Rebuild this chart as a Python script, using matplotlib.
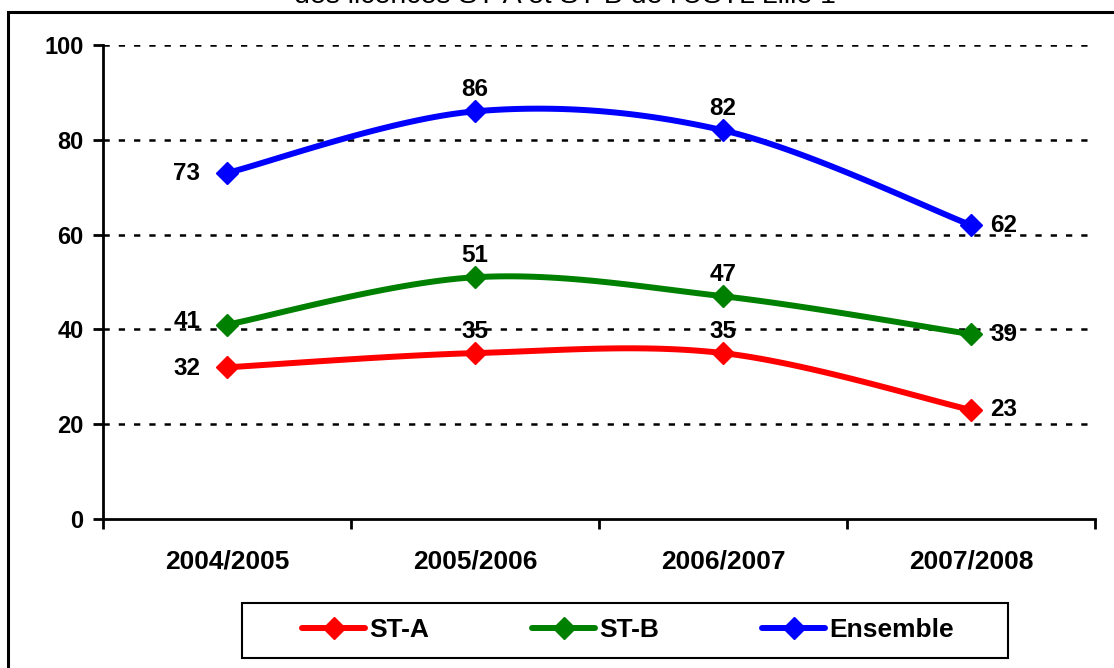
import numpy as np
import matplotlib
matplotlib.use("Agg")
import matplotlib.pyplot as plt
from matplotlib.patches import Rectangle

plt.rcParams['font.family'] = ['Liberation Sans', 'DejaVu Sans']
plt.rcParams['lines.scale_dashes'] = False

categories = ["2004/2005", "2005/2006", "2006/2007", "2007/2008"]
st_a = [32, 35, 35, 23]
st_b = [41, 51, 47, 39]
ensemble = [73, 86, 82, 62]
series_names = ["ST-A", "ST-B", "Ensemble"]
series_colors = ["#ff0000", "#008000", "#0000ff"]
title = "des licences ST-A et ST-B de l'USTL Lille 1"
yticks = [0, 20, 40, 60, 80, 100]


def smooth(x, y, n=40):
    # Catmull-Rom style smoothing (as in spreadsheet "smoothed line")
    x = np.asarray(x, float)
    y = np.asarray(y, float)
    px = np.concatenate([[x[0]], x, [x[-1]]])
    py = np.concatenate([[y[0]], y, [y[-1]]])
    xs, ys = [], []
    for i in range(1, len(px) - 2):
        p0x, p1x, p2x, p3x = px[i - 1], px[i], px[i + 1], px[i + 2]
        p0y, p1y, p2y, p3y = py[i - 1], py[i], py[i + 1], py[i + 2]
        c1x = p1x + (p2x - p0x) / 6
        c1y = p1y + (p2y - p0y) / 6
        c2x = p2x - (p3x - p1x) / 6
        c2y = p2y - (p3y - p1y) / 6
        t = np.linspace(0, 1, n)
        bx = (1 - t) ** 3 * p1x + 3 * (1 - t) ** 2 * t * c1x + 3 * (1 - t) * t ** 2 * c2x + t ** 3 * p2x
        by = (1 - t) ** 3 * p1y + 3 * (1 - t) ** 2 * t * c1y + 3 * (1 - t) * t ** 2 * c2y + t ** 3 * p2y
        xs.append(bx)
        ys.append(by)
    return np.concatenate(xs), np.concatenate(ys)


fig = plt.figure(figsize=(11.14, 6.68), dpi=100)
ax = fig.add_axes([103 / 1114, 1 - 519 / 668, (1095 - 103) / 1114, (519 - 45) / 668])

x = np.arange(len(categories))
data = [st_a, st_b, ensemble]
label_pos = {
    "ST-A": ["left", "above", "above", "right"],
    "ST-B": ["leftup", "above", "above", "right"],
    "Ensemble": ["left", "above", "above", "right"],
}
offs = {"left": (-40, -1), "leftup": (-40, 3), "above": (0, 22), "right": (33, 0)}

handles = []
for name, vals, col in zip(series_names, data, series_colors):
    sx, sy = smooth(x, vals)
    ax.plot(sx, sy, color=col, lw=4.3, solid_capstyle='round', zorder=3)
    ax.plot(x, vals, linestyle='none', marker='D', ms=11, color=col, zorder=4)
    h, = ax.plot([], [], color=col, lw=4.3, marker='D', ms=11, solid_capstyle='round')
    handles.append(h)
    for xi, v, pos in zip(x, vals, label_pos[name]):
        dx, dy = offs[pos]
        ax.annotate(str(v), (xi, v), xytext=(dx, dy), textcoords='offset pixels',
                    ha='center', va='center', fontsize=17.5, fontweight='bold', zorder=5)

ax.set_xlim(-0.5, 3.5)
ax.set_ylim(0, 100)
ax.set_yticks(yticks)
ax.set_yticklabels([str(v) for v in yticks], fontsize=17, fontweight='bold')
ax.set_xticks(x)
ax.set_xticklabels(categories, fontsize=19, fontweight='bold')
ax.set_xticks(np.arange(-0.5, 3.6, 1), minor=True)
ax.tick_params(axis='x', which='major', length=0, pad=22)
ax.tick_params(axis='x', which='minor', length=7, width=2, direction='out')
ax.tick_params(axis='y', length=7, width=2, direction='out', pad=7)
for s in ['top', 'right']:
    ax.spines[s].set_visible(False)
for s in ['left', 'bottom']:
    ax.spines[s].set_linewidth(2)
for yv in yticks[1:]:
    ax.axhline(yv, color='black', lw=1.8, linestyle=(0, (4.5, 6.5)), zorder=1)

fig.text(565 / 1114, 1 - 3 / 668, title, ha='center', va='baseline', fontsize=20.5)
fig.patches.append(Rectangle((8 / 1114, -0.1), 1.2, 1.1 - 12 / 668, transform=fig.transFigure,
                             fill=False, edgecolor='black', lw=2.2, clip_on=False))

# legend frame drawn separately
fig.patches.append(Rectangle((242 / 1114, 1 - 658 / 668), 766 / 1114, 55 / 668,
                             transform=fig.transFigure, fill=False, edgecolor='black', lw=1.5))
leg = fig.legend(handles, series_names, loc='center', ncol=3,
                 bbox_to_anchor=(628 / 1114, 1 - 630 / 668),
                 bbox_transform=fig.transFigure, frameon=False,
                 prop={'size': 19, 'weight': 'bold'}, handlelength=2.4, handletextpad=0.15,
                 columnspacing=3.9, borderaxespad=0, borderpad=0)

fig.savefig("out.png", dpi=100)
